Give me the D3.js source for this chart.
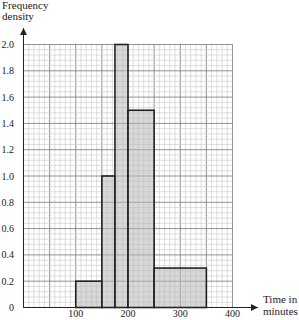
<!DOCTYPE html>
<html>
<head>
<meta charset="utf-8">
<script src="https://cdn.jsdelivr.net/npm/d3@7"></script>
<style>
  body { margin: 0; background: #fff; }
  svg text { font-family: "Liberation Serif", serif; }
</style>
</head>
<body>
<svg id="chart" width="299" height="320"></svg>
<script>
// class boundaries (minutes) and frequency density
const binStart = [100, 150, 175, 200, 250]
const binEnd   = [150, 175, 200, 250, 350]
const density  = [0.2, 1.0, 2.0, 1.5, 0.3]

const xTicks = [100, 200, 300, 400]
const yTicks = [0, 0.2, 0.4, 0.6, 0.8, 1.0, 1.2, 1.4, 1.6, 1.8, 2.0]

let svg = d3.select("#chart")

let x = d3.scaleLinear().domain([0, 400]).range([23.5, 232.5])
let y = d3.scaleLinear().domain([0, 2]).range([307.5, 44.5])

//grid - minor every 10 min / 0.04, major every 50 / 0.2
let grid = svg.append("g").attr("id", "grid")
grid.selectAll("line.v").data(d3.range(0, 401, 10)).enter().append("line")
  .attr("x1", d => x(d)).attr("x2", d => x(d))
  .attr("y1", y(0)).attr("y2", y(2))
  .attr("stroke", d => d % 50 === 0 ? "#858585" : "#d0d0d0")
  .attr("stroke-width", d => d % 50 === 0 ? 0.9 : 0.7)
grid.selectAll("line.h").data(d3.range(0, 51)).enter().append("line")
  .attr("y1", d => y(d * 0.04)).attr("y2", d => y(d * 0.04))
  .attr("x1", x(0)).attr("x2", x(400))
  .attr("stroke", d => d % 5 === 0 ? "#858585" : "#d0d0d0")
  .attr("stroke-width", d => d % 5 === 0 ? 0.9 : 0.7)

//bars
let bins = binStart.map((s, i) => ({s, e: binEnd[i], v: density[i]}))
svg.append("g").selectAll("rect").data(bins).enter().append("rect")
  .attr("x", d => x(d.s))
  .attr("y", d => y(d.v))
  .attr("width", d => x(d.e) - x(d.s))
  .attr("height", d => y(0) - y(d.v))
  .attr("fill", "#b8b8b8").attr("fill-opacity", 0.55)
  .attr("stroke", "#222").attr("stroke-width", 1.6)

//axes with arrows
svg.append("defs").append("marker")
  .attr("id", "arr").attr("viewBox", "0 0 10 10").attr("refX", 10).attr("refY", 5)
  .attr("markerWidth", 9).attr("markerHeight", 7).attr("orient", "auto")
  .attr("markerUnits", "userSpaceOnUse")
  .append("path").attr("d", "M0,0L10,5L0,10Z").attr("fill", "#222")

svg.append("line").attr("x1", x(0)).attr("x2", x(0))
  .attr("y1", y(0)).attr("y2", 28)
  .attr("stroke", "#222").attr("stroke-width", 1).attr("marker-end", "url(#arr)")
svg.append("line").attr("x1", x(0)).attr("x2", 258)
  .attr("y1", y(0)).attr("y2", y(0))
  .attr("stroke", "#222").attr("stroke-width", 1).attr("marker-end", "url(#arr)")

//tick labels
svg.append("g").selectAll("text").data(yTicks).enter().append("text")
  .attr("x", 14).attr("y", d => y(d) + 3.5)
  .attr("text-anchor", "end").attr("font-size", 10).attr("fill", "#222")
  .text(d => d === 0 ? "0" : d.toFixed(1))
svg.append("g").selectAll("text").data(xTicks).enter().append("text")
  .attr("x", d => x(d)).attr("y", 317)
  .attr("text-anchor", "middle").attr("font-size", 10).attr("fill", "#222")
  .text(d => d)

//axis titles
let yt = svg.append("text").attr("font-size", 11).attr("fill", "#222")
yt.append("tspan").attr("x", 2).attr("y", 8.5).text("Frequency")
yt.append("tspan").attr("x", 2).attr("y", 19.5).text("density")
let xt = svg.append("text").attr("font-size", 11).attr("fill", "#222")
xt.append("tspan").attr("x", 263).attr("y", 303).text("Time in")
xt.append("tspan").attr("x", 263).attr("y", 314.5).text("minutes")
</script>
</body>
</html>
